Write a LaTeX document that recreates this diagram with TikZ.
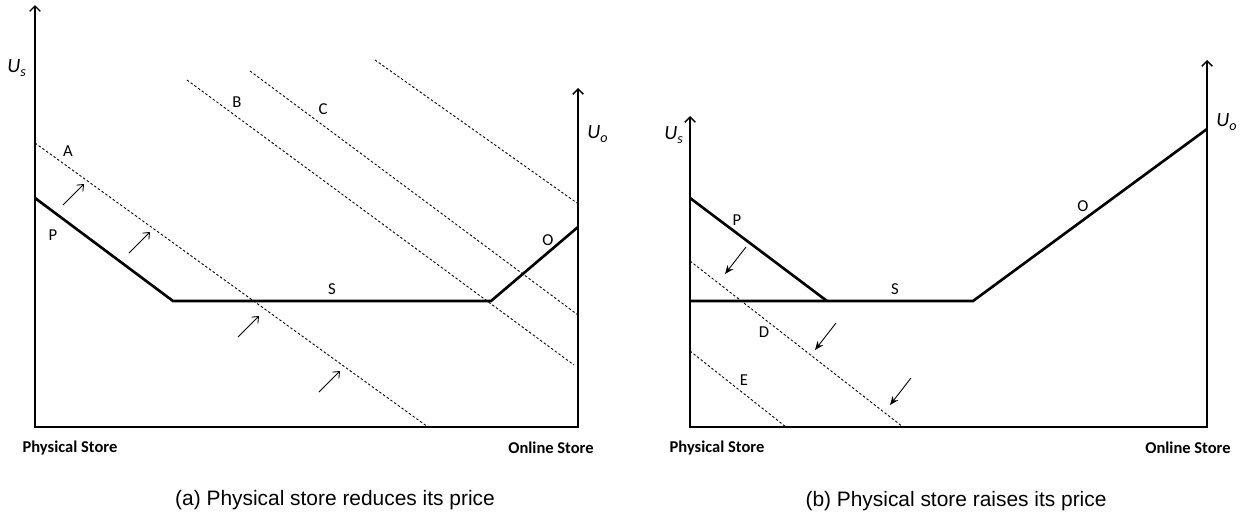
\documentclass[tikz,border=0pt]{standalone}
\usepackage{fontspec}
\setmainfont{Carlito}
\newfontfamily\capfont{Liberation Sans}
\usetikzlibrary{arrows.meta}
\begin{document}
\begin{tikzpicture}[x=0.02cm, y=-0.02cm,
  every node/.style={font=\fontsize{9.5}{11}\selectfont, inner sep=0pt},
  axis/.style={line width=0.8pt, {Straight Barb[length=3pt,width=6pt]}-{Straight Barb[length=3pt,width=6pt]}},
  curve/.style={line width=1.5pt, line join=miter},
  iso/.style={line width=0.5pt, dash pattern=on 1.4pt off 1.2pt},
  up/.style={line width=0.5pt, -{Straight Barb[length=3pt,width=5pt]}},
  down/.style={line width=0.5pt, -{Stealth[length=5pt,width=4pt]}},
  util/.style={font=\fontsize{11.5}{13}\selectfont\itshape},
  store/.style={font=\fontsize{9.4}{11}\selectfont\bfseries},
  capt/.style={font=\fontsize{11.9}{14}\selectfont\capfont}]
  \useasboundingbox (0,0) rectangle (1246,525);
  % (a) physical store reduces its price
  \draw[axis] (35,5) -- (35,427) -- (578,427) -- (578,88);
  \node[util] (usa) at (17,68) {U\textsubscript{s}};
  \node[util] (uoa) at (598,134) {U\textsubscript{o}};
  \draw[curve] (35,198) -- (173,301) -- (491,301) -- (578,227);
  % indifference lines
  \draw[iso] (35,143) -- (428,427);
  \draw[iso] (187,80) -- (574,365);
  \draw[iso] (250,71) -- (578,315);
  \draw[iso] (375,60) -- (577,203);
  \foreach \x/\y in {63/205,129/253,238/337,319/392}
    \draw[up] (\x,\y) -- ++(21,-21);
  \foreach \nm/\x/\y/\lbl in {pa/53/235/P, sa/332/289/S, oa/548/240/O, la/68/151/A, lb/237/102/B, lc/323/109/C}
    \node (\nm) at (\x,\y) {\lbl};
  \node[store] (phya) at (70,448) {Physical Store};
  \node[store] (onla) at (551,448) {Online Store};
  \node[capt] (capa) at (335,500) {(a) Physical store reduces its price};
  % (b) physical store raises its price
  \draw[axis] (690,116) -- (690,427) -- (1207,427) -- (1207,60);
  \node[util] (usb) at (674,135) {U\textsubscript{s}};
  \node[util] (uob) at (1227,122) {U\textsubscript{o}};
  \draw[curve] (690,198) -- (827,301);
  \draw[curve] (690,301) -- (973,301) -- (1207,129);
  \draw[iso] (690,261) -- (903,427);
  \draw[iso] (690,351) -- (786,427);
  \foreach \x/\y in {746/247,836/323,911/378}
    \draw[down] (\x,\y) -- ++(-21,27);
  \foreach \nm/\x/\y/\lbl in {pb/737/220/P, sb/895/289/S, ob/1083/206/O, ld/764/332/D, le/744/380/E}
    \node (\nm) at (\x,\y) {\lbl};
  \node[store] (phyb) at (717,448) {Physical Store};
  \node[store] (onlb) at (1188,448) {Online Store};
  \node[capt] (capb) at (956,501) {(b) Physical store raises its price};
\end{tikzpicture}
\end{document}
